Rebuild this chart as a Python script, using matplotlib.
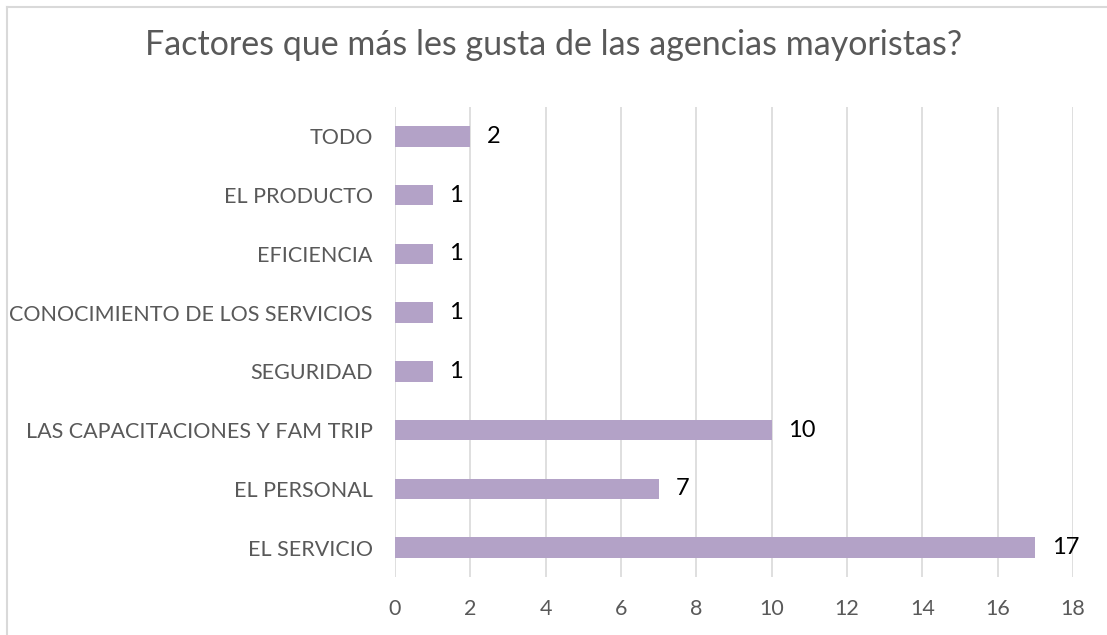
import matplotlib.pyplot as plt
from matplotlib.lines import Line2D

# ── data ──────────────────────────────────────────────
categories = ["EL SERVICIO", "EL PERSONAL", "LAS CAPACITACIONES Y FAM TRIP",
              "SEGURIDAD", "CONOCIMIENTO DE LOS SERVICIOS", "EFICIENCIA",
              "EL PRODUCTO", "TODO"]
values = [17, 7, 10, 1, 1, 1, 1, 2]
xticks = list(range(0, 19, 2))

plt.rcParams["font.family"] = ["Lato", "DejaVu Sans"]

fig = plt.figure(figsize=(11.07, 6.35), dpi=100)
ax = fig.add_axes([0.3568, 0.0913, 0.6125, 0.7402])

ypos = range(len(categories))
ax.barh(ypos, values, height=0.35, color="#B3A2C7", zorder=3)

for y, v in zip(ypos, values):
    ax.annotate(str(v), (v, y), xytext=(12, 0), textcoords="offset points",
                ha="left", va="center", fontsize=17, color="black")

ax.set_xlim(0, 18)
ax.set_ylim(-0.5, len(categories) - 0.5)
ax.set_xticks(xticks)
ax.set_yticks(list(ypos))
ax.set_yticklabels(categories)
ax.tick_params(axis="both", length=0, labelsize=15.5, labelcolor="#595959")
ax.tick_params(axis="y", pad=16)
ax.tick_params(axis="x", pad=16)
ax.grid(axis="x", color="#D9D9D9", linewidth=1.2, zorder=0)
for s in ax.spines.values():
    s.set_visible(False)

fig.suptitle("Factores que más les gusta de las agencias mayoristas?",
             x=0.5, y=0.955, fontsize=24.5, color="#595959")

# chart frame (only top and left edges visible in the crop)
fig.add_artist(Line2D([7 / 1107, 1], [1 - 7 / 635, 1 - 7 / 635],
                      transform=fig.transFigure, color="#D9D9D9", lw=1.5))
fig.add_artist(Line2D([7 / 1107, 7 / 1107], [0, 1 - 7 / 635],
                      transform=fig.transFigure, color="#D9D9D9", lw=1.5))

plt.savefig("out.png", dpi=100)
